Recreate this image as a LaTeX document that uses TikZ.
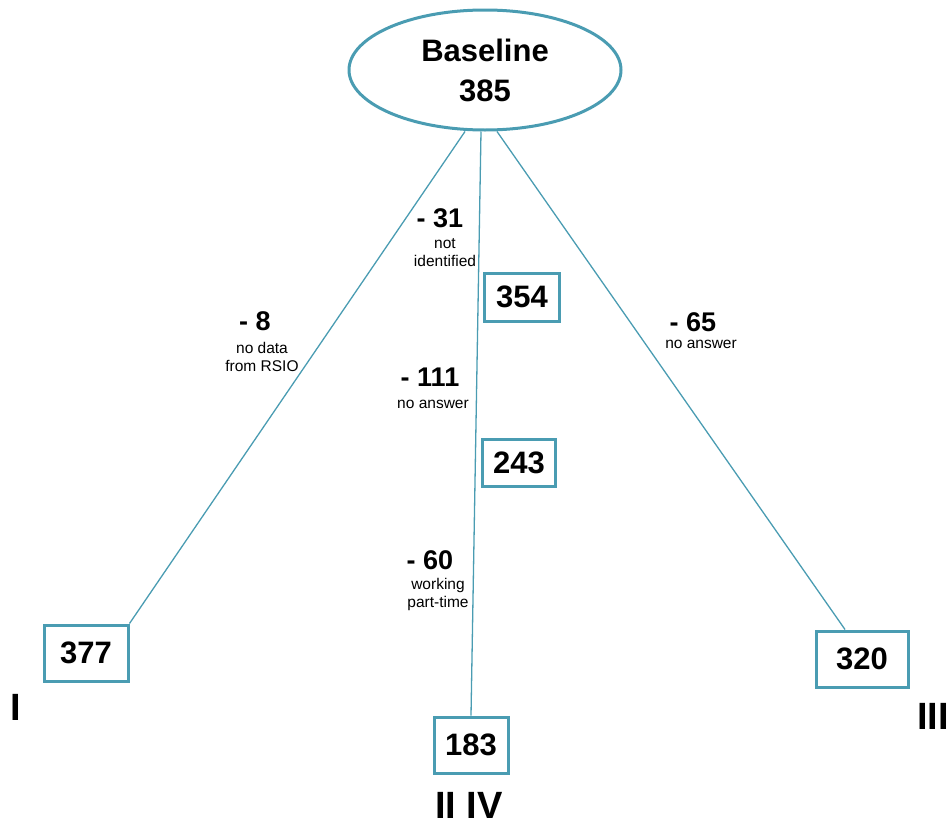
\documentclass[tikz,border=0pt]{standalone}
\usepackage{fontspec}
\setmainfont{Liberation Sans}
\usetikzlibrary{shapes.geometric}
\definecolor{lineblue}{RGB}{74,156,178}
\begin{document}
\begin{tikzpicture}[x=1pt,y=-1pt,
  numbox/.style={draw=lineblue, line width=3pt, inner sep=0pt, font=\fontsize{31}{31}\selectfont\bfseries},
  conn/.style={draw=lineblue, line width=1.3pt},
  drop/.style={inner sep=0pt, font=\fontsize{27}{27}\selectfont\bfseries},
  reason/.style={inner sep=0pt, align=center, font=\fontsize{15.5}{18}\selectfont},
  roman/.style={inner sep=0pt, font=\fontsize{38}{38}\selectfont\bfseries}]
\useasboundingbox (0,0) rectangle (950,827);
\node[ellipse, draw=lineblue, line width=3pt, minimum width=272pt, minimum height=120pt, inner sep=0pt,
  align=center, font=\fontsize{31}{40}\selectfont\bfseries] (base) at (485,70) {Baseline\\385};
\node[numbox, minimum width=84pt, minimum height=56pt] (b377) at (86,653) {377};
\node[numbox, minimum width=92pt, minimum height=56pt] (b320) at (862,659) {320};
\node[numbox, minimum width=74pt, minimum height=56pt] (b183) at (471,745) {183};
\node[numbox, minimum width=75pt, minimum height=48pt] (b354) at (522,297) {354};
\node[numbox, minimum width=73pt, minimum height=47pt] (b243) at (519,463) {243};
\draw[conn] ([xshift=-20pt]base.south) -- (b377.north east);
\draw[conn] ([xshift=-4pt]base.south) -- (b183.north);
\draw[conn] ([xshift=12pt]base.south) -- ([xshift=-17pt]b320.north);
\node[drop] (d31) at (440,218) {- 31};
\node[reason] (r31) at (445,253) {not\\identified};
\node[drop] (d8) at (255,321) {- 8};
\node[reason] (r8) at (262,357) {no data\\from RSIO};
\node[drop] (d65) at (693,322) {- 65};
\node[reason] (r65) at (701,344) {no answer};
\node[drop] (d111) at (430,377) {- 111};
\node[reason] (r111) at (433,404) {no answer};
\node[drop] (d60) at (430,560) {- 60};
\node[reason] (r60) at (438,594) {working\\part-time};
\node[roman] (rI) at (16,707) {I};
\node[roman] (rIII) at (933,716) {III};
\node[roman] (rIIIV) at (469,805) {II IV};
\end{tikzpicture}
\end{document}
